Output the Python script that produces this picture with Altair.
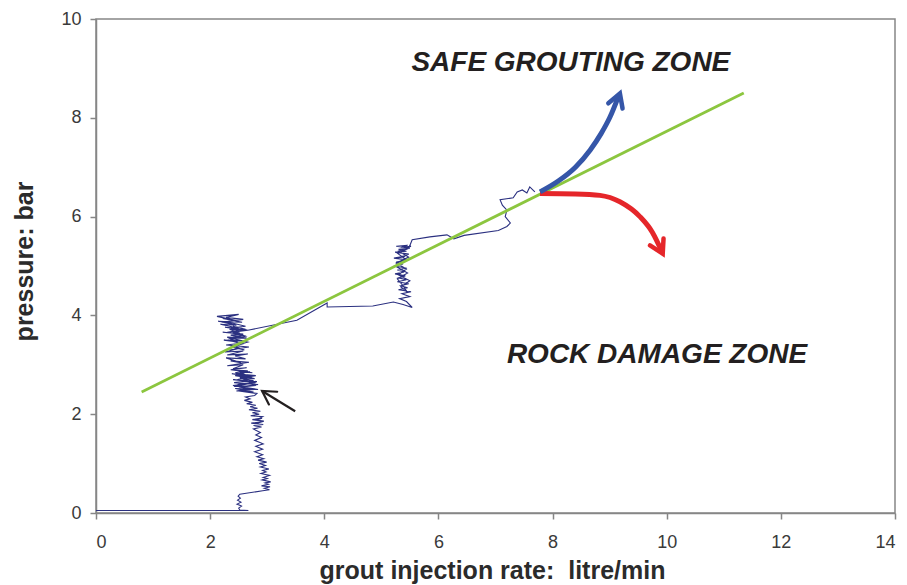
import altair as alt
import pandas as pd

# Recorded grout injection trace: rate (litre/min) vs pressure (bar), in recording order
trace_rate = [
    # idle line and first pressure build-up
    0.00, 2.67, 2.52, 2.50, 2.55, 2.47, 2.54, 2.48, 2.53, 2.49, 2.52,
    2.92, 3.04, 2.95, 3.05, 2.90, 3.02, 2.96, 3.06, 2.91, 3.00, 2.93, 3.04,
    2.89, 2.98, 2.92, 3.03, 2.88, 2.97, 2.86, 2.99, 2.84, 2.94, 2.82, 2.92,
    2.78, 2.92, 2.80, 2.93, 2.78, 2.90, 2.80, 2.88, 2.76,
    2.90, 2.76, 2.93, 2.72, 2.88, 2.78, 2.94, 2.74, 2.91, 2.80, 2.92, 2.71,
    2.86, 2.74, 2.88, 2.68, 2.83, 2.70, 2.80, 2.64,
    2.74, 2.60, 2.70, 2.62, 2.78,
    # first stage cluster
    2.82, 2.50, 2.76, 2.44, 2.84, 2.56, 2.80, 2.42, 2.70, 2.48, 2.82, 2.40,
    2.66, 2.52, 2.78, 2.44, 2.72, 2.38, 2.62, 2.50, 2.74, 2.36,
    2.70, 2.46, 2.80, 2.52, 2.76, 2.42, 2.84, 2.50, 2.78, 2.46, 2.70, 2.40,
    2.80, 2.48, 2.74, 2.44, 2.66, 2.36,
    2.64, 2.40, 2.58, 2.30, 2.68, 2.36, 2.54, 2.28, 2.62, 2.44, 2.66, 2.30,
    2.58, 2.26, 2.50, 2.34, 2.68, 2.28, 2.56, 2.40, 2.62, 2.24, 2.48, 2.30,
    2.64, 2.36, 2.58, 2.22, 2.52, 2.34, 2.60, 2.26, 2.50,
    2.18, 2.46, 2.14, 2.56, 2.22, 2.44, 2.12, 2.50, 2.28, 2.58, 2.20, 2.40,
    2.62, 2.34, 2.66,
    2.40, 2.62, 2.32, 2.56, 2.38, 2.60, 2.42, 2.66, 2.36, 2.58, 2.30, 2.62,
    2.40, 2.66,
    # transfer to second stage
    3.52, 4.05, 4.05, 4.85,
    5.21, 5.38, 5.54, 5.44, 5.32, 5.50, 5.36, 5.52, 5.30, 5.46, 5.34, 5.48,
    5.28, 5.44, 5.30, 5.42, 5.24, 5.40, 5.28, 5.44, 5.22, 5.38, 5.26, 5.46,
    5.22, 5.42, 5.28, 5.48, 5.24, 5.44, 5.30, 5.50, 5.26, 5.46, 5.34, 5.52,
    5.30, 5.48, 5.26, 5.44, 5.30, 5.50, 5.34, 5.46, 5.38, 5.28, 5.46, 5.24,
    5.42, 5.28, 5.48, 5.54,
    # transfer to third stage
    5.85, 6.15, 6.27, 6.45, 7.05, 7.20,
    7.26, 7.17, 7.20, 7.12, 7.08, 7.31, 7.38, 7.47, 7.55, 7.60, 7.69,
]
trace_pressure = [
    0.05, 0.05, 0.06, 0.10, 0.14, 0.18, 0.22, 0.26, 0.30, 0.34, 0.38,
    0.45, 0.47, 0.50, 0.53, 0.55, 0.58, 0.61, 0.63, 0.67, 0.70, 0.72, 0.76,
    0.80, 0.83, 0.86, 0.89, 0.93, 0.96, 1.00, 1.03, 1.07, 1.10, 1.14, 1.18,
    1.24, 1.29, 1.35, 1.40, 1.47, 1.53, 1.58, 1.63, 1.70,
    1.74, 1.77, 1.79, 1.82, 1.84, 1.80, 1.86, 1.89, 1.92, 1.88, 1.95, 1.97,
    2.00, 2.03, 2.06, 2.09, 2.12, 2.15, 2.18, 2.21,
    2.24, 2.28, 2.31, 2.35, 2.38,
    2.42, 2.47, 2.45, 2.52, 2.50, 2.55, 2.58, 2.56, 2.62, 2.60, 2.66, 2.70,
    2.67, 2.74, 2.72, 2.78, 2.76, 2.82, 2.80, 2.86, 2.84, 2.90,
    2.86, 2.82, 2.78, 2.73, 2.68, 2.64, 2.60, 2.55, 2.50, 2.47, 2.52, 2.58,
    2.64, 2.70, 2.76, 2.84, 2.88, 2.90,
    2.94, 2.92, 3.00, 2.98, 3.05, 3.08, 3.04, 3.14, 3.12, 3.18, 3.22, 3.20,
    3.28, 3.26, 3.33, 3.30, 3.36, 3.40, 3.44, 3.38, 3.48, 3.50, 3.46, 3.56,
    3.54, 3.60, 3.62, 3.66, 3.64, 3.72, 3.70, 3.76, 3.74,
    3.82, 3.80, 3.88, 3.86, 3.94, 3.90, 3.98, 4.02, 3.96, 3.92, 3.86, 3.84,
    3.78, 3.74, 3.70,
    3.66, 3.58, 3.50, 3.42, 3.36, 3.30, 3.38, 3.46, 3.54, 3.60, 3.66, 3.72,
    3.78, 3.70,
    3.90, 4.25, 4.17, 4.19,
    4.27, 4.22, 4.16, 4.28, 4.34, 4.38, 4.44, 4.48, 4.52, 4.56, 4.60, 4.64,
    4.68, 4.72, 4.76, 4.80, 4.84, 4.88, 4.92, 4.96, 5.00, 5.04, 5.08, 5.12,
    5.16, 5.20, 5.16, 5.24, 5.28, 5.30, 5.34, 5.36, 5.40, 5.42, 5.38, 5.40,
    5.30, 5.18, 5.06, 4.94, 4.82, 4.70, 4.58, 4.46, 4.60, 4.74, 4.86, 5.00,
    5.14, 5.26, 5.36, 5.53,
    5.59, 5.63, 5.55, 5.62, 5.72, 5.80,
    5.87, 6.00, 6.13, 6.23, 6.34, 6.38, 6.50, 6.54, 6.48, 6.60, 6.50,
]

# Fitted pressure-rate trend line (end points)
trend_rate = [0.80, 11.35]
trend_pressure = [2.45, 8.50]

# Zone arrows
safe_rate = [7.78, 8.10, 8.40, 8.66, 8.85, 9.00, 9.15]
safe_pressure = [6.50, 6.72, 7.00, 7.35, 7.68, 8.00, 8.42]
damage_rate = [7.78, 8.40, 8.83, 9.18, 9.53, 9.75, 9.92]
damage_pressure = [6.47, 6.46, 6.43, 6.30, 6.00, 5.68, 5.28]
pointer_rate = [3.49, 2.91]
pointer_pressure = [2.06, 2.47]

# Arrow heads: tip position, heading (degrees clockwise from up), colour
head_rate = [9.18, 9.93, 2.91]
head_pressure = [8.49, 5.25, 2.47]
head_angle = [20, 153, 303]
head_color = ["#3556a8", "#e5262a", "#231f20"]
head_width = [4.5, 4.5, 2.2]

# Zone labels
zone_text = ["SAFE GROUTING ZONE", "ROCK DAMAGE ZONE"]
zone_rate = [8.32, 9.83]
zone_pressure = [9.11, 3.20]

FONT = "Liberation Sans"

x_scale = alt.Scale(domain=[0, 14], nice=False, zero=False)
y_scale = alt.Scale(domain=[0, 10], nice=False, zero=False)

x_axis = alt.Axis(
    title="grout injection rate:\u00a0 litre/min",
    values=list(range(0, 15, 2)), format="d",
    titleX=396, titleY=65, titleBaseline="alphabetic", titleAnchor="middle",
)
y_axis = alt.Axis(
    title="pressure: bar",
    values=list(range(0, 11, 2)), format="d",
    titleX=-72, titleY=242, titleBaseline="middle", titleAngle=-90,
    titleAnchor="middle",
)

trace_df = pd.DataFrame({"rate": trace_rate, "pressure": trace_pressure,
                         "step": range(len(trace_rate))})
trend_df = pd.DataFrame({"rate": trend_rate, "pressure": trend_pressure})
safe_df = pd.DataFrame({"rate": safe_rate, "pressure": safe_pressure,
                        "step": range(len(safe_rate))})
damage_df = pd.DataFrame({"rate": damage_rate, "pressure": damage_pressure,
                          "step": range(len(damage_rate))})
pointer_df = pd.DataFrame({"rate": pointer_rate, "pressure": pointer_pressure})
head_df = pd.DataFrame({"rate": head_rate, "pressure": head_pressure,
                        "angle": head_angle, "color": head_color, "w": head_width})
zone_df = pd.DataFrame({"label": zone_text, "rate": zone_rate,
                        "pressure": zone_pressure})

X = alt.X("rate:Q", scale=x_scale, axis=x_axis)
Y = alt.Y("pressure:Q", scale=y_scale, axis=y_axis)

trace = alt.Chart(trace_df).mark_line(color="#2b3080", strokeWidth=1.1).encode(
    x=X, y=Y, order="step:Q")

trend = alt.Chart(trend_df).mark_line(color="#8cc63f", strokeWidth=2.8).encode(
    x="rate:Q", y="pressure:Q")

safe = alt.Chart(safe_df).mark_line(
    color="#3556a8", strokeWidth=5, interpolate="monotone", strokeCap="butt"
).encode(x="rate:Q", y="pressure:Q", order="step:Q")

damage = alt.Chart(damage_df).mark_line(
    color="#e5262a", strokeWidth=5, interpolate="monotone", strokeCap="butt"
).encode(x="rate:Q", y="pressure:Q", order="step:Q")

pointer = alt.Chart(pointer_df).mark_line(color="#231f20", strokeWidth=2.2).encode(
    x="rate:Q", y="pressure:Q")

heads = alt.Chart(head_df).mark_point(
    shape="M-0.55,0.95L0,0L0.55,0.95", filled=False, size=760,
    strokeCap="round", strokeJoin="miter", opacity=1,
).encode(
    x="rate:Q", y="pressure:Q",
    angle=alt.Angle("angle:Q", scale=None),
    stroke=alt.Stroke("color:N", scale=None),
    strokeWidth=alt.StrokeWidth("w:Q", scale=None),
)

zones = alt.Chart(zone_df).mark_text(
    font=FONT, fontSize=28, fontWeight="bold", fontStyle="italic",
    color="#231f20", align="center", baseline="middle",
).encode(x="rate:Q", y="pressure:Q", text="label:N")

chart = alt.layer(trace, trend, pointer, damage, safe, heads, zones).properties(
    width=799, height=494,
    autosize=alt.AutoSizeParams(type="none"),
    padding={"left": 96, "top": 19, "right": 12, "bottom": 72},
).configure_view(
    stroke="#868686", strokeWidth=1.5
).configure_axis(
    grid=False,
    domainColor="#868686", domainWidth=1.5,
    tickColor="#868686", tickWidth=1.5, tickSize=6,
    labelFont=FONT, labelFontSize=18, labelColor="#3a3a3a",
    titleFont=FONT, titleFontSize=25, titleFontWeight="bold", titleColor="#2b2b2b",
).configure_axisX(
    labelPadding=14,
).configure_axisY(
    labelPadding=9,
)

chart.save("out.html", embed_options={"renderer": "svg", "actions": False})
